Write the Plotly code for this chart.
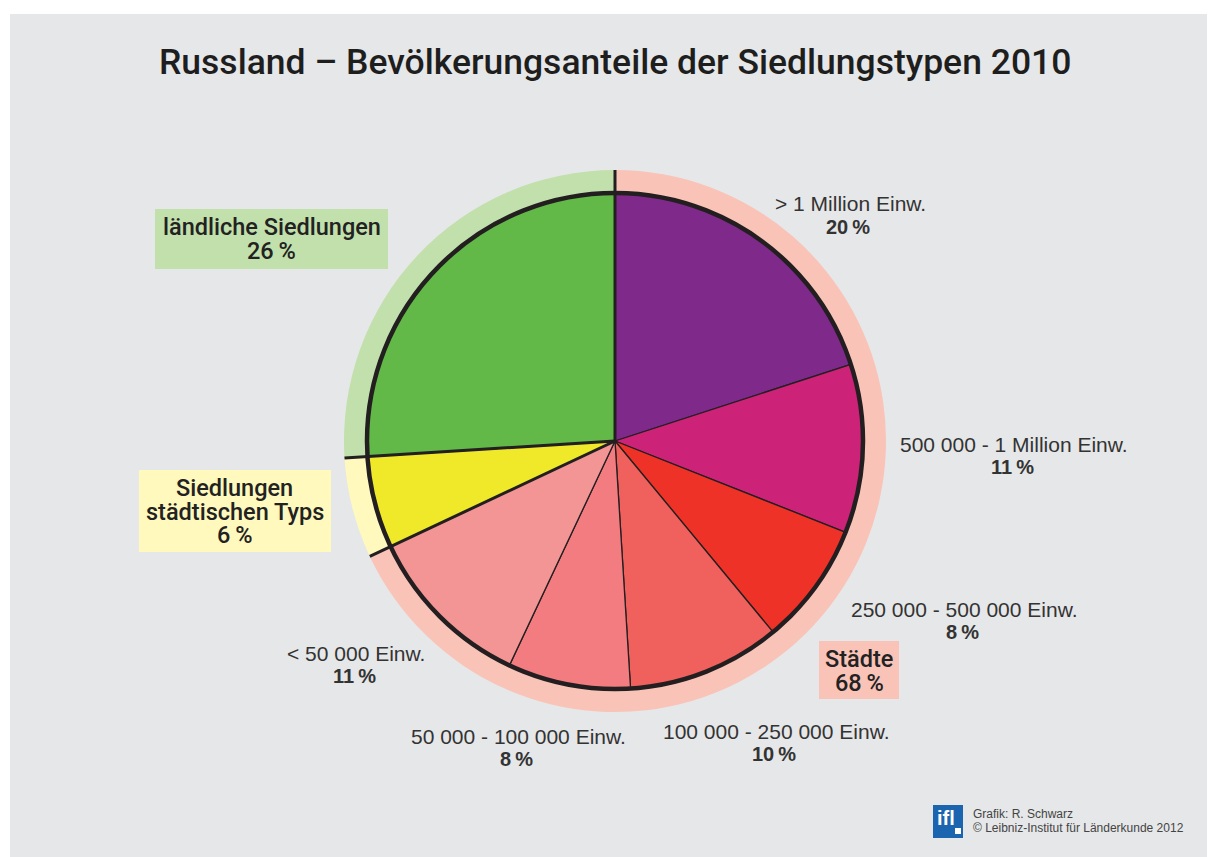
"""Russland – Bevölkerungsanteile der Siedlungstypen 2010 (Kreisdiagramm)."""

import math

import plotly.graph_objects as go

# Daten
kategorien = [
    "> 1 Million Einw.",
    "500 000 - 1 Million Einw.",
    "250 000 - 500 000 Einw.",
    "100 000 - 250 000 Einw.",
    "50 000 - 100 000 Einw.",
    "< 50 000 Einw.",
    "Siedlungen städtischen Typs",
    "ländliche Siedlungen",
]
anteile = [20, 11, 8, 10, 8, 11, 6, 26]

gruppen = ["Städte", "Siedlungen städtischen Typs", "ländliche Siedlungen"]
gruppen_anteile = [68, 6, 26]

farben = ["#7f2a8b", "#cc2277", "#ee3228", "#f0605c", "#f27c80", "#f49595",
          "#efe92a", "#62b947"]
ring_farben = ["#f9c3b8", "#fff9bd", "#c2e0ab"]

# Seite hat 8px Rand -> Figur um 8px kleiner, Koordinaten unten in Bildschirm-Pixeln
OFF = 8
W, H = 1215 - OFF, 857 - OFF
CX, CY = 615, 441          # Mittelpunkt
R_IN, R_OUT = 248, 271     # Radien Kreis / Ring
BG = "#e6e7e8"
TXT = "#2b2b2b"
LINE = "#231f20"
FONT = "Liberation Sans, Arial, sans-serif"
FONT_M = "Roboto, Liberation Sans, sans-serif"
THIN = "\u2009"


def px(x, y):
    return (x - OFF) / W, 1 - (y - OFF) / H


def dom(r):
    x0, y0 = px(CX - r, CY + r)
    x1, y1 = px(CX + r, CY - r)
    return dict(x=[x0, x1], y=[y0, y1])


fig = go.Figure()

# äußerer Ring (Gruppen)
fig.add_trace(go.Pie(
    values=gruppen_anteile, labels=gruppen, domain=dom(R_OUT), hole=R_IN / R_OUT,
    sort=False, direction="clockwise", rotation=0, textinfo="none",
    marker=dict(colors=ring_farben, line=dict(width=0)),
    hoverinfo="label+percent",
))

# innerer Kreis
fig.add_trace(go.Pie(
    values=anteile, labels=kategorien, domain=dom(R_IN),
    sort=False, direction="clockwise", rotation=0, textinfo="none",
    marker=dict(colors=farben, line=dict(color=LINE, width=1.3)),
    hoverinfo="label+percent",
))

shapes = []
x0, y0 = px(10, 857)
x1, y1 = px(1215, 14)
shapes.append(dict(type="rect", xref="paper", yref="paper", layer="below",
                   x0=x0, x1=x1, y0=y0, y1=y1, fillcolor=BG, line=dict(width=0)))

# Gruppengrenzen als durchgehende Linien bis zum Ring
summe = sum(gruppen_anteile)
kum = 0
for g in gruppen_anteile:
    theta = 2 * math.pi * kum / summe
    x0, y0 = px(CX, CY)
    x1, y1 = px(CX + R_OUT * math.sin(theta), CY - R_OUT * math.cos(theta))
    shapes.append(dict(type="line", xref="paper", yref="paper",
                       x0=x0, y0=y0, x1=x1, y1=y1,
                       line=dict(color=LINE, width=3)))
    kum += g

# dicker Kreisrand
d = dom(R_IN)
shapes.append(dict(type="circle", xref="paper", yref="paper",
                   x0=d["x"][0], x1=d["x"][1], y0=d["y"][0], y1=d["y"][1],
                   line=dict(color=LINE, width=4.5)))

annotations = []


def text(x, y, s, size, family=FONT, weight="normal", color=TXT, xanchor="center"):
    ax, ay = px(x, y)
    annotations.append(dict(
        x=ax, y=ay, xref="paper", yref="paper", showarrow=False,
        xanchor=xanchor, yanchor="middle", text=s,
        font=dict(family=family, size=size, color=color, weight=weight),
    ))


def label(x, y, name, pct):
    text(x, y, name, 21, color="#333333")
    text(x - 2, y + 23, f"{pct}{THIN}%", 20, weight="bold", color="#333333")


label(850, 204, kategorien[0], anteile[0])
label(1014, 444, kategorien[1], anteile[1])
label(964, 609, kategorien[2], anteile[2])
label(776, 731, kategorien[3], anteile[3])
label(518, 736, kategorien[4], anteile[4])
label(356, 653, kategorien[5], anteile[5])


def box(x0, y0, x1, y1, lines, color, y_first):
    bx0, by0 = px(x0, y1)
    bx1, by1 = px(x1, y0)
    shapes.append(dict(type="rect", xref="paper", yref="paper",
                       x0=bx0, y0=by0, x1=bx1, y1=by1,
                       fillcolor=color, line=dict(width=0)))
    for i, s in enumerate(lines):
        text((x0 + x1) / 2, y_first + 23.5 * i, s, 23.5, family=FONT_M, weight=500,
             color="#222222")


box(155, 209, 388, 269,
    [gruppen[2], f"{gruppen_anteile[2]}{THIN}%"], ring_farben[2], 227)
box(139, 470, 331, 552,
    ["Siedlungen", "städtischen Typs", f"{gruppen_anteile[1]}{THIN}%"], ring_farben[1], 488)
box(819, 641, 899, 699,
    [gruppen[0], f"{gruppen_anteile[0]}{THIN}%"], ring_farben[0], 659)

# Titel
text(615, 62, "Russland – Bevölkerungsanteile der Siedlungstypen 2010", 35.5,
     family=FONT_M, weight=500, color="#1e1e1e")

# Logo
x0, y0 = px(933, 838)
x1, y1 = px(963, 805)
shapes.append(dict(type="rect", xref="paper", yref="paper",
                   x0=x0, y0=y0, x1=x1, y1=y1,
                   fillcolor="#1a64b0", line=dict(width=0)))
x0, y0 = px(955, 834)
x1, y1 = px(961, 828)
shapes.append(dict(type="rect", xref="paper", yref="paper",
                   x0=x0, y0=y0, x1=x1, y1=y1,
                   fillcolor="white", line=dict(width=0)))
text(946, 818, "ifl", 20, weight="bold", color="white")
text(971, 814, "Grafik: R. Schwarz", 12, color="#444444", xanchor="left")
text(971, 828, "© Leibniz-Institut für Länderkunde 2012", 12, color="#444444",
     xanchor="left")

fig.update_layout(
    width=W, height=H,
    margin=dict(l=0, r=0, t=0, b=0),
    paper_bgcolor="white",
    showlegend=False,
    shapes=shapes,
    annotations=annotations,
)

fig.write_html("out.html")
